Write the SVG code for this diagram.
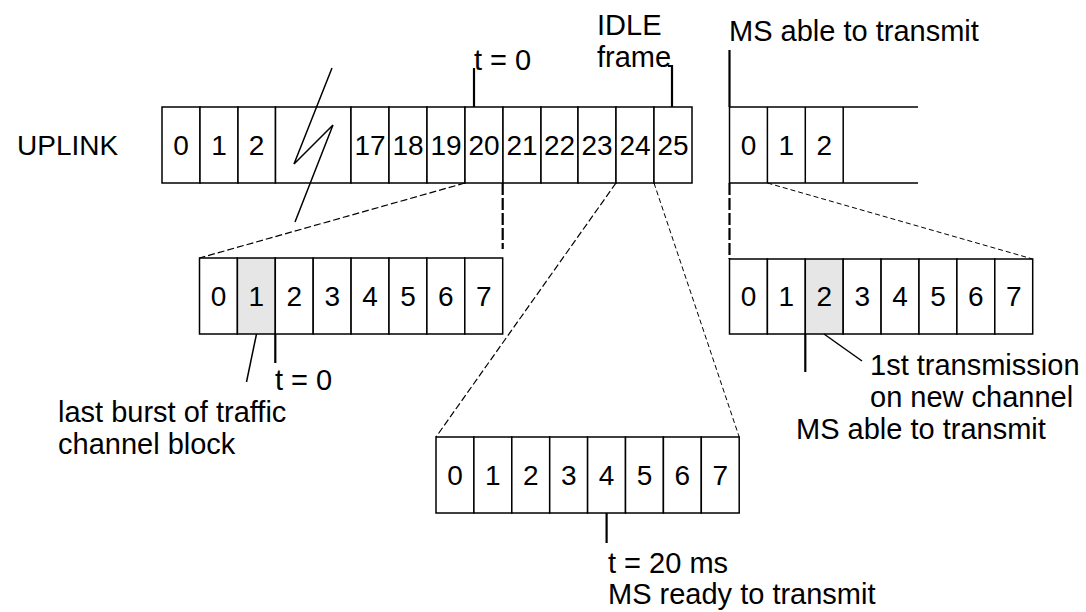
<svg xmlns="http://www.w3.org/2000/svg" width="1086" height="612" viewBox="0 0 1086 612">
<style>
text{font-family:"Liberation Sans",Arial,sans-serif;font-size:29px;fill:#000}
.d{text-anchor:middle;font-size:28px}
.c{fill:#fff;stroke:#000;stroke-width:1.5}
.s{fill:#e6e6e6;stroke:#000;stroke-width:1.5}
.ln{fill:none;stroke:#000;stroke-width:1.5}
.mk{fill:none;stroke:#000;stroke-width:2.2}
.ds{fill:none;stroke:#000;stroke-width:1.2;stroke-dasharray:7 3}
.dt{fill:none;stroke:#000;stroke-width:1;stroke-dasharray:5 3}
.dv{fill:none;stroke:#000;stroke-width:2.2;stroke-dasharray:12 3}
</style>
<rect width="1086" height="612" fill="#fff"/>
<g id="uplink-label"><text x="17" y="155" style="font-size:28px">UPLINK</text></g>
<g id="uplink-frame">
<rect class="c" x="162" y="107" width="38" height="76"/>
<rect class="c" x="200" y="107" width="38" height="76"/>
<rect class="c" x="238" y="107" width="37.5" height="76"/>
<rect class="c" x="275.5" y="107" width="75.5" height="76"/>
<rect class="c" x="351" y="107" width="38" height="76"/>
<rect class="c" x="389" y="107" width="38" height="76"/>
<rect class="c" x="427" y="107" width="38" height="76"/>
<rect class="c" x="465" y="107" width="38" height="76"/>
<rect class="c" x="503" y="107" width="38" height="76"/>
<rect class="c" x="541" y="107" width="37" height="76"/>
<rect class="c" x="578" y="107" width="38" height="76"/>
<rect class="c" x="616" y="107" width="38" height="76"/>
<rect class="c" x="654" y="107" width="38" height="76"/>
<text class="d" x="181" y="155">0</text>
<text class="d" x="219" y="155">1</text>
<text class="d" x="256.5" y="155">2</text>
<text class="d" x="370" y="155">17</text>
<text class="d" x="408" y="155">18</text>
<text class="d" x="446" y="155">19</text>
<text class="d" x="484" y="155">20</text>
<text class="d" x="522" y="155">21</text>
<text class="d" x="559.5" y="155">22</text>
<text class="d" x="597" y="155">23</text>
<text class="d" x="635" y="155">24</text>
<text class="d" x="673" y="155">25</text>
<path class="ln" d="M332,68 L294,164 L333,125 L295,222"/>
</g>
<g id="uplink-next">
<path class="ln" d="M918,107 H729.5 V183 H918"/>
<path class="ln" d="M767.4,107 V183 M805.3,107 V183 M843.2,107 V183"/>
<text class="d" x="748.5" y="155">0</text>
<text class="d" x="786.4" y="155">1</text>
<text class="d" x="824.3" y="155">2</text>
</g>
<g id="timeslots-left">
<rect class="c" x="199.5" y="258" width="37.9" height="76"/>
<rect class="s" x="237.4" y="258" width="37.9" height="76"/>
<rect class="c" x="275.3" y="258" width="37.9" height="76"/>
<rect class="c" x="313.2" y="258" width="37.9" height="76"/>
<rect class="c" x="351.1" y="258" width="37.9" height="76"/>
<rect class="c" x="389" y="258" width="37.9" height="76"/>
<rect class="c" x="426.9" y="258" width="37.9" height="76"/>
<rect class="c" x="464.8" y="258" width="37.9" height="76"/>
<text class="d" x="218.5" y="306">0</text>
<text class="d" x="256.4" y="306">1</text>
<text class="d" x="294.3" y="306">2</text>
<text class="d" x="332.2" y="306">3</text>
<text class="d" x="370.1" y="306">4</text>
<text class="d" x="408" y="306">5</text>
<text class="d" x="445.9" y="306">6</text>
<text class="d" x="483.8" y="306">7</text>
</g>
<g id="timeslots-idle">
<rect class="c" x="436" y="437" width="37.9" height="76"/>
<rect class="c" x="473.9" y="437" width="37.9" height="76"/>
<rect class="c" x="511.8" y="437" width="37.9" height="76"/>
<rect class="c" x="549.7" y="437" width="37.9" height="76"/>
<rect class="c" x="587.6" y="437" width="37.9" height="76"/>
<rect class="c" x="625.5" y="437" width="37.9" height="76"/>
<rect class="c" x="663.4" y="437" width="37.9" height="76"/>
<rect class="c" x="701.3" y="437" width="37.9" height="76"/>
<text class="d" x="455" y="485">0</text>
<text class="d" x="492.9" y="485">1</text>
<text class="d" x="530.8" y="485">2</text>
<text class="d" x="568.7" y="485">3</text>
<text class="d" x="606.6" y="485">4</text>
<text class="d" x="644.5" y="485">5</text>
<text class="d" x="682.4" y="485">6</text>
<text class="d" x="720.3" y="485">7</text>
</g>
<g id="timeslots-right">
<rect class="c" x="729.5" y="259" width="37.9" height="75"/>
<rect class="c" x="767.4" y="259" width="37.9" height="75"/>
<rect class="s" x="805.3" y="259" width="37.9" height="75"/>
<rect class="c" x="843.2" y="259" width="37.9" height="75"/>
<rect class="c" x="881.1" y="259" width="37.9" height="75"/>
<rect class="c" x="919" y="259" width="37.9" height="75"/>
<rect class="c" x="956.9" y="259" width="37.9" height="75"/>
<rect class="c" x="994.8" y="259" width="37.9" height="75"/>
<text class="d" x="748.5" y="306">0</text>
<text class="d" x="786.4" y="306">1</text>
<text class="d" x="824.3" y="306">2</text>
<text class="d" x="862.2" y="306">3</text>
<text class="d" x="900.1" y="306">4</text>
<text class="d" x="938" y="306">5</text>
<text class="d" x="975.9" y="306">6</text>
<text class="d" x="1013.8" y="306">7</text>
</g>
<g id="connectors">
<path class="ds" d="M465,183 L199.5,258"/>
<path class="dv" d="M502.7,183 V249"/>
<path class="ds" d="M616,183 L436,437"/>
<path class="dt" d="M654,183 L739.2,437"/>
<path class="dt" d="M767.4,183 L1032.7,259"/>
<path class="dv" d="M729.5,183 V259"/>
<path class="mk" d="M474,68 V107"/>
<path class="mk" d="M668,66 H672 V107"/>
<path class="mk" d="M729.5,50 V107"/>
<path class="mk" d="M275.3,334 V363"/>
<path class="ln" d="M256.5,334 L246.5,382"/>
<path class="mk" d="M606.6,513 V543"/>
<path class="mk" d="M805.3,334 V372"/>
<path class="ln" d="M824,334 L862,361"/>
</g>
<g id="labels">
<text x="474" y="70">t = 0</text>
<text x="597" y="35">IDLE</text>
<text x="597" y="67">frame</text>
<text x="729" y="41">MS able to transmit</text>
<text x="275" y="390">t = 0</text>
<text x="58" y="422">last burst of traffic</text>
<text x="58" y="454">channel block</text>
<text x="608" y="573">t = 20 ms</text>
<text x="608" y="604">MS ready to transmit</text>
<text x="870" y="375">1st transmission</text>
<text x="870" y="407">on new channel</text>
<text x="796" y="439">MS able to transmit</text>
</g>
</svg>
